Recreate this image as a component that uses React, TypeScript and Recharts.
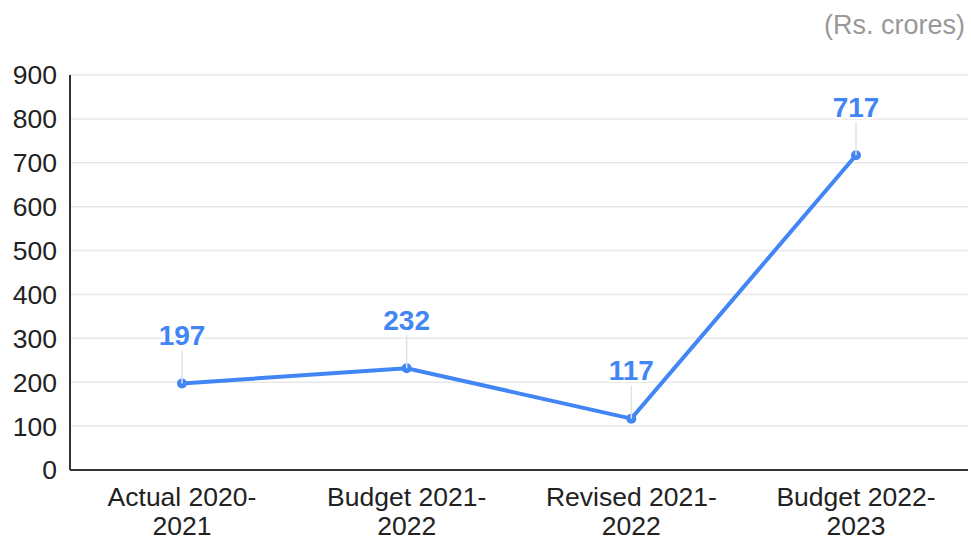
import React from "react"
import { LineChart, Line, XAxis, YAxis, CartesianGrid, LabelList } from "recharts"

const categories = ["Actual 2020-2021", "Budget 2021-2022", "Revised 2021-2022", "Budget 2022-2023"]
const categoryLines = [
  ["Actual 2020-", "2021"],
  ["Budget 2021-", "2022"],
  ["Revised 2021-", "2022"],
  ["Budget 2022-", "2023"],
]
const values = [197, 232, 117, 717]
const yTicks = [0, 100, 200, 300, 400, 500, 600, 700, 800, 900]

const BLUE = "#4285f4"
const FONT = "'Liberation Sans', Arial, sans-serif"

const data = categories.map((name, i) => ({ name, value: values[i], idx: i }))

function XTick(props: any) {
  const { x, y, payload } = props
  const lines = categoryLines[payload.index] ?? [payload.value]
  return (
    <text x={x} y={y} textAnchor="middle" fill="#222" fontSize={26.5} fontFamily={FONT}>
      {lines.map((l, i) => (
        <tspan key={i} x={x} dy={i === 0 ? 28 : 29}>
          {l}
        </tspan>
      ))}
    </text>
  )
}

function PointLabel(props: any) {
  const { x, y, value } = props
  const labelY = y - 48
  return (
    <g>
      <line x1={x} x2={x} y1={labelY + 15} y2={y} stroke="#e3e3e3" strokeWidth={1.5} />
      <text
        x={x}
        y={labelY}
        textAnchor="middle"
        dominantBaseline="central"
        fill={BLUE}
        fontSize={28}
        fontWeight="bold"
        fontFamily={FONT}
        stroke="#fff"
        strokeWidth={4}
        paintOrder="stroke"
      >
        {value}
      </text>
    </g>
  )
}

export default function App() {
  return (
    <div style={{ position: "absolute", left: 0, top: 0, width: 971, height: 539, background: "#fff" }}>
      <div
        style={{
          position: "absolute",
          right: 6,
          top: 10,
          fontFamily: FONT,
          fontSize: 27,
          color: "#999",
        }}
      >
        (Rs. crores)
      </div>
      <LineChart width={971} height={539} data={data} margin={{ top: 75, right: 3, left: 0, bottom: 0 }}>
        <CartesianGrid vertical={false} stroke="#e8e8e8" strokeWidth={1.5} />
        <XAxis
          dataKey="name"
          interval={0}
          height={69}
          padding={{ left: 112, right: 112 }}
          tickLine={false}
          axisLine={{ stroke: "#333", strokeWidth: 2 }}
          tick={<XTick />}
        />
        <YAxis
          width={70}
          domain={[0, 900]}
          ticks={yTicks}
          interval={0}
          tickLine={false}
          tickSize={0}
          tickMargin={13}
          axisLine={{ stroke: "#333", strokeWidth: 2 }}
          tick={{ fill: "#222", fontSize: 26.5, fontFamily: FONT }}
        />
        <Line
          type="linear"
          dataKey="value"
          stroke={BLUE}
          strokeWidth={4}
          dot={{ r: 5, fill: BLUE, stroke: BLUE, strokeWidth: 0 }}
          isAnimationActive={false}
        >
          <LabelList dataKey="value" content={<PointLabel />} />
        </Line>
      </LineChart>
    </div>
  )
}
